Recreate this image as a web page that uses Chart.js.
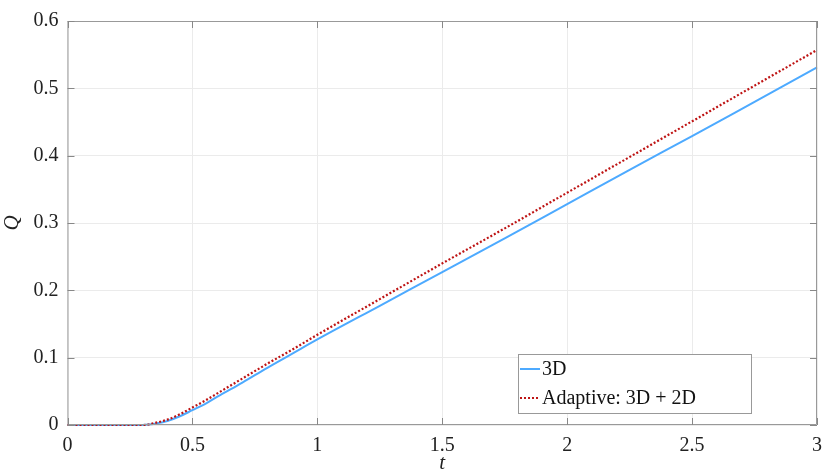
<!DOCTYPE html>
<html>
<head>
<meta charset="utf-8">
<script src="https://cdn.jsdelivr.net/npm/chart.js@4"></script>
<style>
  html, body { margin: 0; padding: 0; background: #fff; }
  #wrap { width: 831px; height: 476px; }
</style>
</head>
<body>
<div id="wrap"><canvas id="grafico" width="831" height="476"></canvas></div>
<script>
// valores
const tiempos = [0, 0.1, 0.2, 0.3, 0.325, 0.35, 0.4, 0.45, 0.5, 0.55, 0.6, 0.7, 0.8, 0.9, 1.0, 1.25, 1.5, 1.75, 2.0, 2.25, 2.5, 2.75, 3.0];
const q3D = [0, 0, 0, 0, 0.0006, 0.002, 0.006, 0.013, 0.022, 0.031, 0.042, 0.063, 0.085, 0.106, 0.127, 0.177, 0.227, 0.277, 0.328, 0.379, 0.429, 0.480, 0.531];
const qAdaptativo = [0, 0, 0, 0, 0.0008, 0.003, 0.008, 0.016, 0.026, 0.036, 0.047, 0.069, 0.091, 0.112, 0.134, 0.187, 0.240, 0.292, 0.345, 0.398, 0.451, 0.504, 0.557];
const etiquetas = ['3D', 'Adaptive: 3D + 2D'];
const ticksX = [0, 0.5, 1, 1.5, 2, 2.5, 3];
const ticksY = [0, 0.1, 0.2, 0.3, 0.4, 0.5, 0.6];

const fuente = '"Times New Roman", "Liberation Serif", "DejaVu Serif", serif';

// caja, marcas hacia dentro y leyenda dentro del area
const cajaPlugin = {
    id: 'caja',
    afterDraw(chart) {
        const ctx = chart.ctx;
        const a = chart.chartArea;
        const sx = chart.scales.x, sy = chart.scales.y;
        ctx.save();
        ctx.strokeStyle = '#999999';
        ctx.lineWidth = 1;
        ctx.beginPath();
        ctx.rect(a.left + 0.5, a.top + 0.5, a.right - a.left - 1, a.bottom - a.top - 1);
        ctx.stroke();
        ctx.strokeStyle = '#888888';
        ctx.beginPath();
        ticksX.forEach(v => {
            const px = Math.round(sx.getPixelForValue(v)) + 0.5;
            ctx.moveTo(px, a.bottom); ctx.lineTo(px, a.bottom - 7);
            ctx.moveTo(px, a.top); ctx.lineTo(px, a.top + 7);
        });
        ticksY.forEach(v => {
            const py = Math.round(sy.getPixelForValue(v)) + 0.5;
            ctx.moveTo(a.left, py); ctx.lineTo(a.left + 7, py);
            ctx.moveTo(a.right, py); ctx.lineTo(a.right - 7, py);
        });
        ctx.stroke();

        // leyenda
        const x0 = 518, y0 = 354, w = 233, h = 59;
        ctx.fillStyle = '#ffffff';
        ctx.fillRect(x0, y0, w, h);
        ctx.strokeStyle = '#999999';
        ctx.strokeRect(x0 + 0.5, y0 + 0.5, w, h);
        ctx.font = '20px ' + fuente;
        ctx.textBaseline = 'middle';
        ctx.fillStyle = '#111111';
        chart.data.datasets.forEach((ds, i) => {
            const yy = y0 + 15 + i * 29;
            ctx.strokeStyle = ds.borderColor;
            ctx.lineWidth = 2;
            ctx.setLineDash(ds.borderDash || []);
            ctx.beginPath();
            ctx.moveTo(x0 + 2, yy); ctx.lineTo(x0 + 22, yy);
            ctx.stroke();
            ctx.setLineDash([]);
            ctx.fillText(ds.label, x0 + 24, yy + 1);
        });
        ctx.restore();
    }
};

const ctx = document.getElementById('grafico').getContext('2d');
new Chart(ctx, {
    type: 'line',
    data: {
        datasets: [
            {
                label: etiquetas[0],
                data: tiempos.map((t, i) => ({x: t, y: q3D[i]})),
                borderColor: 'rgb(77, 170, 255)',
                borderWidth: 2,
                pointRadius: 0,
                cubicInterpolationMode: 'monotone',
                clip: 4,
                order: 2,
                fill: false
            },
            {
                label: etiquetas[1],
                data: tiempos.map((t, i) => ({x: t, y: qAdaptativo[i]})),
                borderColor: 'rgb(190, 20, 20)',
                borderWidth: 2.2,
                borderDash: [2, 2],
                pointRadius: 0,
                cubicInterpolationMode: 'monotone',
                clip: 4,
                order: 1,
                fill: false
            }
        ]
    },
    options: {
        responsive: false,
        animation: false,
        layout: { padding: { top: 12, right: 8, left: 0, bottom: 0 } },
        plugins: { legend: { display: false }, tooltip: { enabled: false } },
        scales: {
            x: {
                type: 'linear',
                min: 0, max: 3,
                afterBuildTicks: s => { s.ticks = ticksX.map(v => ({value: v})); },
                afterFit: s => { s.height = 51; },
                grid: { color: '#ebebeb', drawTicks: false },
                border: { display: false },
                ticks: {
                    padding: 9,
                    color: '#222222',
                    font: { family: fuente, size: 20 },
                    callback: v => String(v)
                },
                title: {
                    display: true,
                    text: 't',
                    color: '#222222',
                    padding: { top: 0, bottom: 0 },
                    font: { family: fuente, size: 21, style: 'italic' }
                }
            },
            y: {
                min: 0, max: 0.6,
                afterBuildTicks: s => { s.ticks = ticksY.map(v => ({value: v})); },
                afterFit: s => { s.width = 67.5; },
                grid: { color: '#ebebeb', drawTicks: false },
                border: { display: false },
                ticks: {
                    padding: 9,
                    color: '#222222',
                    font: { family: fuente, size: 20 },
                    callback: v => String(v)
                },
                title: {
                    display: true,
                    text: 'Q',
                    color: '#222222',
                    padding: { top: 0, bottom: 0 },
                    font: { family: fuente, size: 21, style: 'italic' }
                }
            }
        }
    },
    plugins: [cajaPlugin]
});
</script>
</body>
</html>
